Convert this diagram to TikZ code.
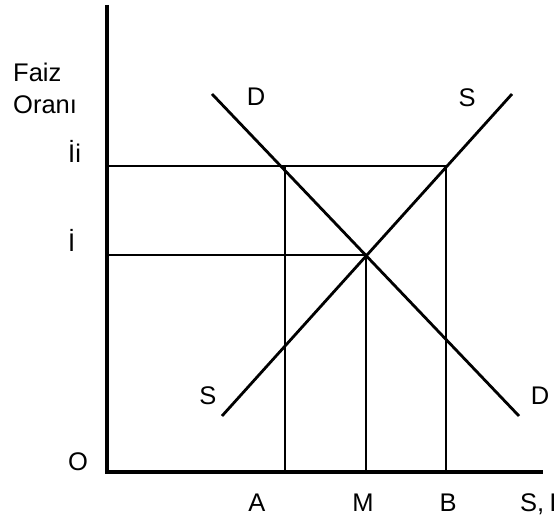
\documentclass[tikz,border=0pt]{standalone}
\usepackage{fontspec}
\setmainfont{Liberation Sans}
\begin{document}
\begin{tikzpicture}[x=1pt,y=-1pt,
  axis/.style={line width=3.2pt},
  curve/.style={line width=2.8pt},
  guide/.style={line width=2.8pt},
  lbl/.style={inner sep=0pt,font=\fontsize{25.5}{30}\selectfont},
]
\useasboundingbox (0,0) rectangle (557,526);
% points
\coordinate (O) at (107,472);
\coordinate (Ytop) at (107,5);
\coordinate (Xend) at (543,472);
\coordinate (Dtop) at (212,94);
\coordinate (Dbot) at (519,416);
\coordinate (Stop) at (512,94);
\coordinate (Sbot) at (222,416);
\coordinate (Yii) at (107,166);
\coordinate (Yi) at (107,255);
\coordinate (Aii) at (285,166);
\coordinate (Bii) at (446,166);
\coordinate (E) at (366,255);
\coordinate (Ax) at (285,472);
\coordinate (Mx) at (366,472);
\coordinate (Bx) at (446,472);
% guides
\draw[guide] (Yii) -- (Bii);
\draw[guide] (Yi) -- (E);
\draw[guide] (Aii) -- (Ax);
\draw[guide] (E) -- (Mx);
\draw[guide] (Bii) -- (Bx);
% curves
\draw[curve] (Dtop) -- (Dbot);
\draw[curve] (Sbot) -- (Stop);
% axes
\draw[axis] (Ytop) -- (O) -- (Xend);
% labels
\node[lbl,anchor=base west] (faiz) at (13,82) {Faiz};
\node[lbl,anchor=base west] (orani) at (13,114) {Oranı};
\node[lbl,anchor=base west] (lii) at (68,163) {İi};
\node[lbl,anchor=base west] (li) at (68,252) {İ};
\node[lbl,anchor=base] (lo) at (78,471) {O};
\node[lbl,anchor=base] (la) at (257,511) {A};
\node[lbl,anchor=base] (lm) at (363,511) {M};
\node[lbl,anchor=base] (lb) at (448,511) {B};
\node[lbl,anchor=base west] (lsi) at (520,511) {S,\hspace{0.2em}I};
\node[lbl,anchor=base] (ld1) at (256,106) {D};
\node[lbl,anchor=base] (ls1) at (467,107) {S};
\node[lbl,anchor=base] (ls2) at (208,405) {S};
\node[lbl,anchor=base] (ld2) at (540,405) {D};
\end{tikzpicture}
\end{document}
